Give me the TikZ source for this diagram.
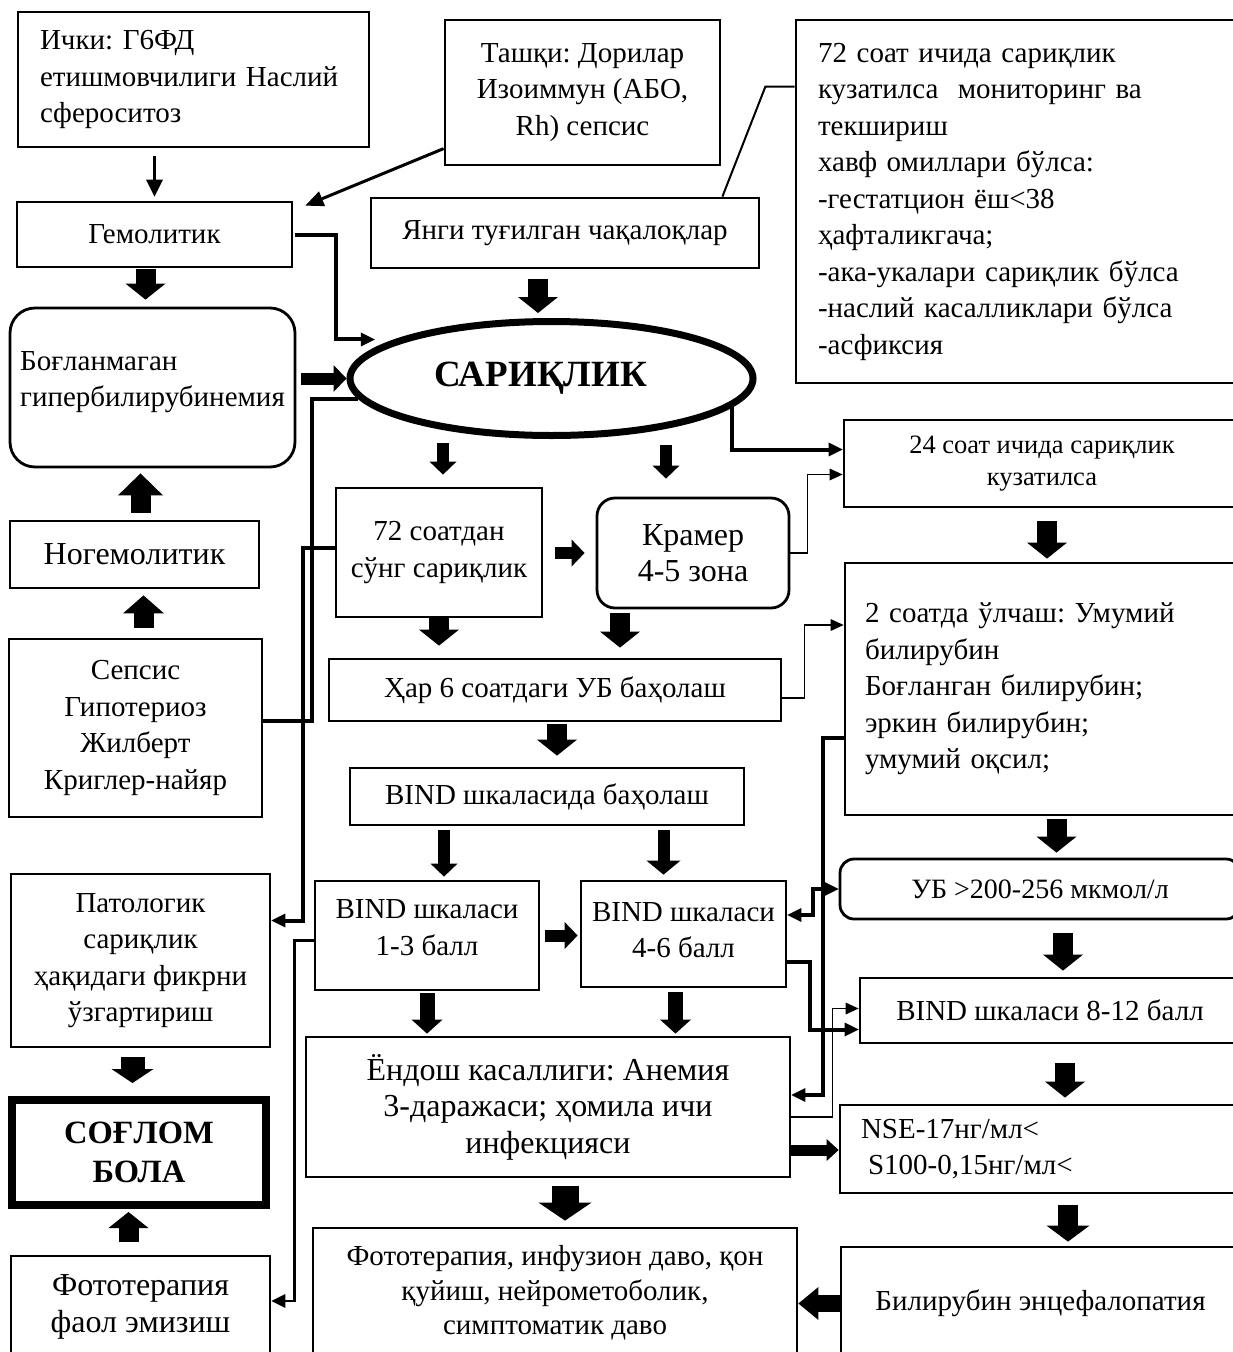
\documentclass[tikz,border=0pt]{standalone}
\usepackage{fontspec}
\setmainfont{Liberation Serif}
\frenchspacing
\tikzset{every picture/.style={/utils/exec={\fontsize{29pt}{36.5pt}\selectfont}}}
\usetikzlibrary{arrows.meta}
\usetikzlibrary{shapes.geometric}

\begin{document}
\begin{tikzpicture}[x=1pt, y=-1pt,
  box/.style={draw, line width=2.8pt, inner sep=0pt, align=center},
  lbox/.style={box, align=left},
  big/.style={font=\fontsize{32pt}{36.5pt}\selectfont},
  conn/.style={line width=4pt, -{Triangle[width=14pt, length=14pt, line width=0pt]}},
  thn/.style={line width=1.8pt, -{Triangle[width=12pt, length=13pt, line width=0pt]}},
  blk/.style={line width=20pt, -{Triangle[width=40pt, length=16pt, line width=0pt]}},
  blkm/.style={line width=15pt, -{Triangle[width=31pt, length=14pt, line width=0pt]}},
  blks/.style={line width=12pt, -{Triangle[width=27pt, length=13pt, line width=0pt]}}]
  \useasboundingbox (0,0) rectangle (1232,1352);

  \node [lbox, text width=307pt, inner xsep=22pt, minimum height=135pt] (ichki) at (193.5,79.5) {Ички: Г6ФД\\етишмовчилиги Наслий\\сфероситоз};
  \node [box, minimum width=275pt, minimum height=145pt] (tashqi) at (582.5,92.5) {Ташқи: Дорилар\\Изоиммун (АБО,\\Rh) сепсис};
  \node [lbox, text width=400pt, inner xsep=22pt, minimum height=363pt] (risk) at (1018,201.5) {72 соат ичида сариқлик\\кузатилса\ \ мониторинг ва\\текшириш\\хавф омиллари бўлса:\\-гестатцион ёш<38\\ҳафталикгача;\\-ака-укалари сариқлик бўлса\\-наслий касалликлари бўлса\\-асфиксия};
  \node [box, minimum width=275pt, minimum height=65pt] (hemo) at (154.5,234.5) {Гемолитик};
  \node [box, minimum width=388pt, minimum height=70pt] (yangi) at (565,233) {Янги туғилган чақалоқлар};
  \node [draw, ellipse, line width=7pt, inner sep=0pt, minimum width=403pt, minimum height=114pt, font=\fontsize{37pt}{40pt}\selectfont\bfseries] (sar) at (551.5,378.5) {САРИҚЛИК\kern22pt};
  \node [lbox, rounded corners=25pt, minimum width=285pt, minimum height=159pt, text depth=17pt] (boglan) at (152.5,387.5) {Боғланмаган\\гипербилирубинемия};
  \node [box, big, minimum width=249pt, minimum height=67pt] (nogemo) at (134.5,554.5) {Ногемолитик};
  \node [box, minimum width=253pt, minimum height=178pt] (sepsis) at (135.5,728) {Сепсис\\Гипотериоз\\Жилберт\\Криглер-найяр};

  \node [box, minimum width=206pt, minimum height=129pt] (soat72) at (439,552.5) {72 соатдан\\сўнг сариқлик};
  \node [box, big, rounded corners=18pt, minimum width=192pt, minimum height=110pt] (kramer) at (693,553) {Крамер\\4-5 зона};
  \node [box, minimum width=396pt, minimum height=87pt, font=\fontsize{26.5pt}{32pt}\selectfont] (kuz24) at (1042,463.5) {24 соат ичида сариқлик\\кузатилса};
  \node [box, minimum width=452pt, minimum height=62pt] (har6) at (555,690) {Ҳар 6 соатдаги УБ баҳолаш};
  \node [lbox, text width=355pt, inner xsep=20pt, minimum height=252pt] (olchash) at (1042.5,689) {2 соатда ўлчаш: Умумий\\билирубин\\Боғланган билирубин;\\эркин билирубин;\\умумий оқсил;};
  \node [box, minimum width=394pt, minimum height=57pt] (bindbaho) at (547,796.5) {BIND шкаласида баҳолаш};
  \node [box, rounded corners=14pt, minimum width=400pt, minimum height=60pt, font=\fontsize{28pt}{34pt}\selectfont] (ub) at (1040,889) {УБ >200-256 мкмол/л};
  \node [box, minimum width=224pt, minimum height=109pt, text depth=16pt] (bind13) at (427,935.5) {BIND шкаласи\\1-3 балл};
  \node [box, minimum width=205pt, minimum height=106pt, text depth=8pt] (bind46) at (683.5,934) {BIND шкаласи\\4-6 балл};
  \node [box, minimum width=380pt, minimum height=65pt] (bind812) at (1050,1010.5) {BIND шкаласи 8-12 балл};

  \node [box, minimum width=259pt, minimum height=173pt] (patol) at (140.5,960.5) {Патологик\\сариқлик\\ҳақидаги фикрни\\ўзгартириш};
  \node [box, big, minimum width=484pt, minimum height=140pt] (endosh) at (548,1107) {Ёндош касаллиги: Анемия\\3-даражаси; ҳомила ичи\\инфекцияси};
  \node [lbox, text width=358pt, inner xsep=21pt, minimum height=88pt] (nse) at (1040,1149) {NSE-17нг/мл<\\\hspace*{7pt}S100-0,15нг/мл<};
  \node [box, line width=8pt, minimum width=254pt, minimum height=105pt, font=\fontsize{32.5pt}{39pt}\selectfont\bfseries] (soglom) at (139,1152.5) {СОҒЛОМ\\БОЛА};
  \node [box, big, minimum width=259pt, minimum height=102pt] (foto) at (140.5,1307) {Фототерапия\\фаол эмизиш};
  \node [box, minimum width=484pt, minimum height=130pt, font=\fontsize{29pt}{34.5pt}\selectfont] (fotobig) at (555,1293) {Фототерапия, инфузион даво, қон\\қуйиш, нейрометоболик,\\симптоматик даво};
  \node [box, minimum width=399pt, minimum height=113pt] (bilirub) at (1040.5,1303.5) {Билирубин энцефалопатия};

  \draw [line width=3pt, -{Triangle[width=17pt, length=17pt, line width=0pt]}, shorten <=8pt, shorten >=4pt] (ichki.south -| hemo.north) -- (hemo.north);
  \draw [line width=3pt, -{Triangle[width=16pt, length=18pt, line width=0pt]}] (tashqi.202) -- ([xshift=12pt, yshift=-5pt]hemo.north east);
  \draw [line width=2pt] ([xshift=-38pt]yangi.north east) -- ++(43,-110) -- ([yshift=115pt]risk.west);
  \draw [conn, shorten >=20pt] ([xshift=2pt]hemo.east) -- ++(41,0) |- (sar.166);
  \draw [blk, shorten <=1pt, shorten >=7pt] ([xshift=-9pt]hemo.south) -- ([xshift=-9pt]hemo.south |- boglan.north);
  \draw [blks, shorten <=5pt] (boglan.east |- sar.west) -- (sar.west);
  \draw [blk, shorten <=10pt, shorten >=5pt] ([xshift=-27pt]yangi.south) -- ([xshift=-27pt]yangi.south |- sar.north);
  \draw [blk, -{Triangle[width=45pt, length=22pt, line width=0pt]}, shorten <=7pt, shorten >=5pt] ([xshift=6pt]nogemo.north) -- ([xshift=6pt]nogemo.north |- boglan.south);
  \draw [blk, -{Triangle[width=41pt, length=18pt, line width=0pt]}, shorten <=10pt, shorten >=6pt] ([xshift=8pt]sepsis.north) -- ([xshift=8pt]sepsis.north |- nogemo.south);
  \draw [conn, -] ([yshift=7pt]sepsis.east) -- ++(49,0) |- (sar.186);

  \draw [blks, shorten <=4pt, shorten >=12pt] ([xshift=4pt]soat72.north |- sar.south) -- ([xshift=4pt]soat72.north);
  \draw [blks, shorten <=6pt, shorten >=18pt] ([xshift=-27pt]kramer.north |- sar.south) -- ([xshift=-27pt]kramer.north);
  \draw [blks, shorten <=12pt, shorten >=11pt] (soat72.east |- kramer.west) -- (kramer.west);
  \draw [conn] (sar.-9) |- ([yshift=14pt]kuz24.west);
  \draw [thn] (kramer.east) -- ++(17,0) |- ([yshift=-11pt]kuz24.west);
  \draw [blk, shorten >=12pt] (soat72.south) -- (soat72.south |- har6.north);
  \draw [blk, shorten <=4pt, shorten >=10pt] ([xshift=-73pt]kramer.south) -- ([xshift=-73pt]kramer.south |- har6.north);
  \draw [blk, shorten <=13pt, shorten >=3pt] ([xshift=5pt]kuz24.south) -- ([xshift=5pt]kuz24.south |- olchash.north);
  \draw [thn] ([yshift=-8pt]har6.east) -- ++(22,0) |- ([yshift=64pt]olchash.west);
  \draw [blk, shorten <=2pt, shorten >=11pt] ([xshift=2pt]har6.south) -- ([xshift=2pt]har6.south |- bindbaho.north);
  \draw [blk, shorten <=3pt, shorten >=5pt] ([xshift=14pt]olchash.south) -- ([xshift=14pt]olchash.south |- ub.north);
  \draw [conn] ([yshift=5pt]soat72.west) -- ++(-32,0) |- ([yshift=40pt]patol.east);

  \draw [blks, shorten <=4pt, shorten >=3pt] ([xshift=17pt]bind13.north |- bindbaho.south) -- ([xshift=17pt]bind13.north);
  \draw [blks, -{Triangle[width=34pt, length=14pt, line width=0pt]}, shorten <=4pt, shorten >=5pt] ([xshift=-20pt]bind46.north |- bindbaho.south) -- ([xshift=-20pt]bind46.north);
  \draw [blks, shorten <=5pt, shorten >=2pt] (bind13.east) -- (bind13.east -| bind46.west);
  \draw [blk, shorten <=13pt, shorten >=6pt] ([xshift=23pt]ub.south) -- ([xshift=23pt]ub.south |- bind812.north);
  \draw [conn, {Triangle[width=14pt, length=14pt, line width=0pt]}-{Triangle[width=14pt, length=14pt, line width=0pt]}] ([yshift=19pt]bind46.east) -- ++(26,0) |- (ub.west);
  \draw [conn] ([yshift=-28pt]bind46.east) -- ++(23,0) |- ([yshift=-19pt]bind812.west);
  \draw [thn] ([yshift=-10pt]endosh.east) -- ++(41,0) |- ([yshift=2pt]bind812.west);
  \draw [conn] ([yshift=-49pt]olchash.west) -- ++(-21,0) |- ([yshift=12pt]endosh.east);
  \draw [conn, line width=2.5pt] ([yshift=-5pt]bind13.west) -- ++(-19,0) |- ([yshift=6pt]foto.east);

  \draw [blkm, shorten <=2pt, shorten >=2pt] (bind13.south) -- (bind13.south |- endosh.north);
  \draw [blkm, shorten <=4pt, shorten >=2pt] ([xshift=-8pt]bind46.south) -- ([xshift=-8pt]bind46.south |- endosh.north);
  \draw [line width=11pt, -{Triangle[width=22pt, length=12pt, line width=0pt]}] ([yshift=-43pt]endosh.east) -- ([yshift=-43pt]endosh.east -| nse.west);
  \draw [blk, shorten <=19pt, shorten >=6pt] ([xshift=15pt]bind812.south) -- ([xshift=15pt]bind812.south |- nse.north);
  \draw [blk, -{Triangle[width=43pt, length=16pt, line width=0pt]}, shorten <=11pt, shorten >=4pt] ([xshift=28pt]nse.south) -- ([xshift=28pt]nse.south |- bilirub.north);
  \draw [line width=17pt, -{Triangle[width=33pt, length=20pt, line width=0pt]}] (bilirub.west) -- (bilirub.west -| fotobig.east);
  \draw [line width=27pt, -{Triangle[width=53pt, length=18pt, line width=0pt]}, shorten <=8pt, shorten >=6pt] ([xshift=17pt]endosh.south) -- ([xshift=17pt]endosh.south |- fotobig.north);
  \draw [blk, line width=24pt, -{Triangle[width=42pt, length=14pt, line width=0pt]}, shorten <=9pt, shorten >=13pt] ([xshift=-8pt]patol.south) -- ([xshift=-8pt]patol.south |- soglom.north);
  \draw [blk, shorten <=13pt, shorten >=3pt] ([xshift=-12pt]foto.north) -- ([xshift=-12pt]foto.north |- soglom.south);
\end{tikzpicture}
\end{document}
